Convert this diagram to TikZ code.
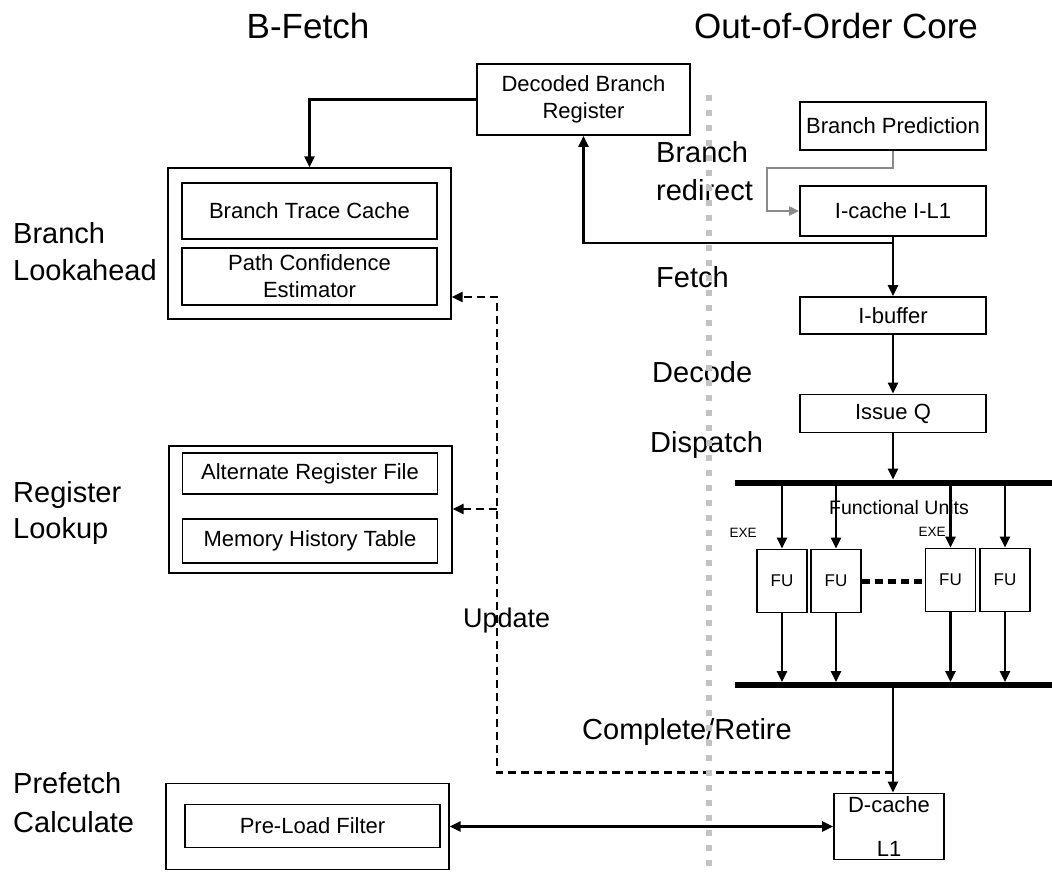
\documentclass[tikz,border=0pt]{standalone}
\usepackage{fontspec}
\setmainfont{Liberation Sans}
\usetikzlibrary{arrows.meta}
\definecolor{dotgray}{HTML}{C3C3C3}
\definecolor{arrgray}{HTML}{8A8A8A}
\begin{document}
\begin{tikzpicture}[x=1pt,y=-1pt,
  box/.style={draw, line width=1.8pt, inner sep=0pt, align=center, font=\fontsize{22}{27}\selectfont},
  outerbox/.style={draw, line width=1.3pt, inner sep=0pt},
  lab/.style={anchor=west, inner sep=0pt, font=\fontsize{29}{35}\selectfont, text height=21pt, text depth=0pt},
  ttl/.style={inner sep=0pt, font=\fontsize{35}{40}\selectfont, text height=25pt, text depth=0pt},
  arr/.style={line width=2.5pt, -{Triangle[length=11pt,width=10pt]}},
  dasharr/.style={line width=2.5pt, dash pattern=on 8pt off 5pt, -{Triangle[length=11pt,width=10pt]}},
  grayarr/.style={line width=2pt, draw=arrgray, -{Triangle[length=10pt,width=9pt]}},
  bar/.style={line width=6pt},
  fubox/.style={box, font=\fontsize{17}{20}\selectfont, minimum width=50pt, minimum height=63pt},
]
\fill[white] (0,0) rectangle (1052,873);
\useasboundingbox (0,0) rectangle (1052,873);

% titles
\node[ttl] (t1) at (308,26) {B-Fetch};
\node[ttl] (t2) at (836,26) {Out-of-Order Core};

% left labels
\node[lab] (l1) at (13,233) {Branch};
\node[lab] (l2) at (13,270) {Lookahead};
\node[lab] (l3) at (13,492) {Register};
\node[lab] (l4) at (13,528) {Lookup};
\node[lab] (l5) at (13,783) {Prefetch};
\node[lab] (l6) at (13,822) {Calculate};

% stage labels
\node[lab] (s1) at (656,152) {Branch};
\node[lab] (s2) at (656,190) {redirect};
\node[lab] (s3) at (656,277) {Fetch};
\node[lab] (s4) at (652,372) {Decode};
\node[lab] (s5) at (650,442) {Dispatch};
\node[lab, font=\fontsize{27}{32}\selectfont, text height=19.5pt] (s6) at (463,618) {Update};
\node[lab, anchor=center] (s7) at (687,729) {Complete/Retire};

% B-Fetch side boxes
\node[box, minimum width=213pt, minimum height=71pt] (dbr) at (583.5,99.5) {Decoded Branch\\Register};
\node[outerbox, minimum width=283pt, minimum height=151pt] (bl) at (309.5,243.5) {};
\node[box, minimum width=255pt, minimum height=56pt] (btc) at (309.5,211) {Branch Trace Cache};
\node[box, minimum width=255pt, minimum height=57pt] (pce) at (309.5,276.5) {Path Confidence\\Estimator};
\node[outerbox, minimum width=283pt, minimum height=127pt] (rl) at (310.5,509.5) {};
\node[box, minimum width=255pt, minimum height=41pt] (arf) at (310,473.5) {Alternate Register File};
\node[box, minimum width=255pt, minimum height=44pt] (mht) at (310,541) {Memory History Table};
\node[outerbox, minimum width=283pt, minimum height=86pt] (pf) at (307.5,826.5) {};
\node[box, minimum width=255pt, minimum height=43pt] (plf) at (312.5,826) {Pre-Load Filter};

% core boxes
\node[box, minimum width=186pt, minimum height=48pt] (bp) at (893,126) {Branch Prediction};
\node[box, minimum width=186pt, minimum height=50pt] (ic) at (893,211) {I-cache I-L1};
\node[box, minimum width=186pt, minimum height=37pt] (ib) at (893,315.5) {I-buffer};
\node[box, minimum width=186pt, minimum height=38pt] (iq) at (893,413.5) {Issue Q};

\node[inner sep=0pt, font=\fontsize{19.5}{22}\selectfont] (fulab) at (899,508) {Functional Units};
\node[inner sep=0pt, font=\fontsize{13.5}{16}\selectfont] (exe1) at (743,533) {EXE};
\node[inner sep=0pt, font=\fontsize{13.5}{16}\selectfont] (exe2) at (932,532) {EXE};

\node[fubox] (fu1) at (782,581) {FU};
\node[fubox] (fu2) at (836,581) {FU};
\node[fubox] (fu3) at (950.5,580) {FU};
\node[fubox] (fu4) at (1005,580) {FU};

\node[box, font=\fontsize{22}{44}\selectfont, minimum width=110pt, minimum height=66pt] (dc) at (889,826.5) {D-cache\\L1};

% bars
\coordinate (tbL) at (735,482.5);
\coordinate (tbR) at (1052,482.5);
\coordinate (tbT) at (735,479.5);
\coordinate (bbL) at (735,685);
\coordinate (bbR) at (1052,685);
\coordinate (bbT) at (735,682);
\coordinate (bbJ) at (893,685);
\draw[bar] (tbL) -- (tbR);
\draw[bar] (bbL) -- (bbR);

% main pipeline arrows
\draw[arr] (ic.south) -- (ib.north);
\draw[arr] (ib.south) -- (iq.north);
\draw[arr] (iq.south) -- (iq.south |- tbT);
\foreach \f in {fu1,fu2,fu3,fu4}{
  \draw[arr] (\f |- tbL) -- (\f.north);
  \draw[arr] (\f.south) -- (\f.south |- bbT);
}
\draw[line width=5pt, dash pattern=on 8pt off 5pt] (fu2.east) -- (fu3.west |- fu2.east);
\draw[arr] (bbJ) -- (bbJ |- dc.north);

% branch prediction (gray)
\draw[grayarr] (bp.south) -- ++(0,17) -| ([xshift=-32pt]ic.west) -- (ic.west);

% fetch feedback to decoded branch register
\coordinate (fj) at (893,243);
\draw[arr] (fj) -- (fj -| dbr.south) -- (dbr.south);
\draw[arr] (dbr.west) -| (bl.north);

% update (dashed)
\coordinate (uR) at (893,772.7);
\coordinate (uc) at (497,297);
\coordinate (ur2) at (497,509);
\draw[dasharr] (uR) -| (uc) -- (uc -| bl.east);
\draw[dasharr] (ur2) -- (ur2 -| rl.east);

% prefetch <-> D-cache
\draw[line width=2.5pt, {Triangle[length=11pt,width=10pt]}-{Triangle[length=11pt,width=10pt]}] (pf.east) -- (dc.west);

% divider
\coordinate (dvT) at (709,95);
\coordinate (dvB) at (709,873);
\draw[line width=6.5pt, draw=dotgray, dash pattern=on 6pt off 9pt] (dvT) -- (dvB);
\end{tikzpicture}
\end{document}
